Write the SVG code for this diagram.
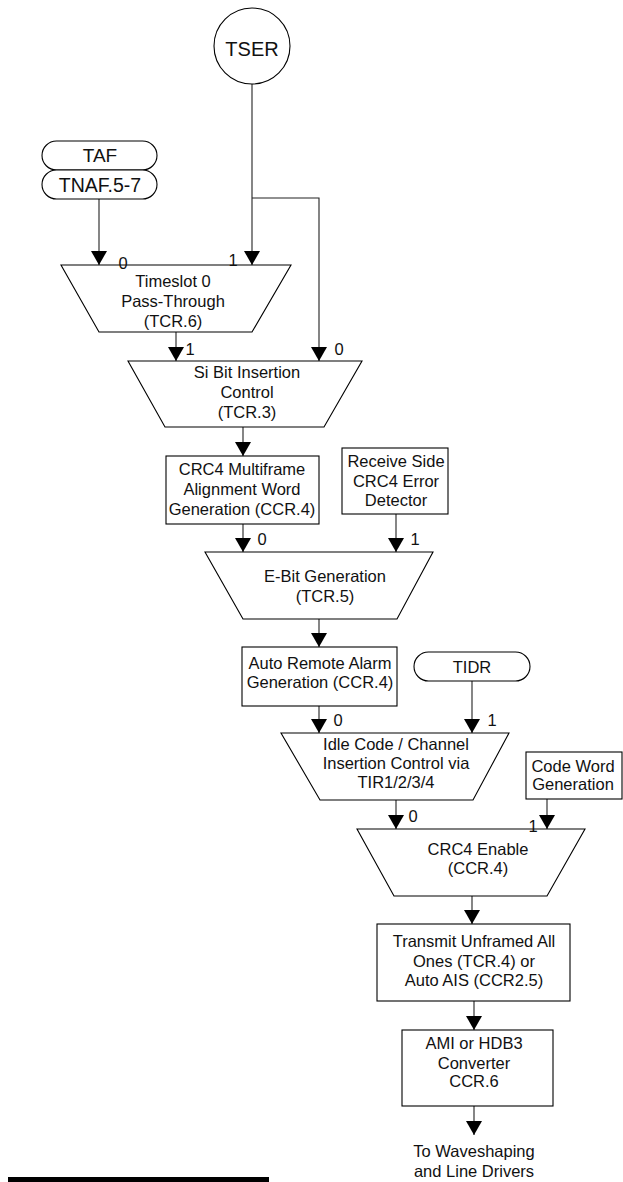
<svg xmlns="http://www.w3.org/2000/svg" width="623" height="1182" viewBox="0 0 623 1182">
<defs>
<marker id="ah" viewBox="0 0 14 16" refX="14" refY="8" markerWidth="14" markerHeight="16" markerUnits="userSpaceOnUse" orient="auto">
<path d="M0,0 L14,8 L0,16 z" fill="#000"/>
</marker>
<style>
.s{fill:#fff;stroke:#000;stroke-width:1.1}
.c{fill:none;stroke:#222;stroke-width:1.1}
.a{fill:none;stroke:#222;stroke-width:1.1;marker-end:url(#ah)}
text{font-family:"Liberation Sans",Arial,sans-serif;font-size:16.5px;fill:#111;text-anchor:middle}
.l{text-anchor:middle}
</style>
</defs>
<rect width="623" height="1182" fill="#fff"/>
<g id="connectors">
<line class="a" x1="252" y1="84" x2="252" y2="265"/>
<polyline class="a" points="252,198 319,198 319,361"/>
<line class="a" x1="99" y1="199" x2="99" y2="265"/>
<line class="a" x1="176" y1="332" x2="176" y2="361"/>
<line class="a" x1="243" y1="427" x2="243" y2="456"/>
<line class="a" x1="243" y1="524" x2="243" y2="552"/>
<line class="a" x1="396" y1="514" x2="396" y2="552"/>
<line class="a" x1="319" y1="619" x2="319" y2="647"/>
<line class="a" x1="319" y1="706" x2="319" y2="733"/>
<line class="a" x1="472" y1="681" x2="472" y2="733"/>
<line class="a" x1="396" y1="800" x2="396" y2="829"/>
<line class="a" x1="547" y1="799" x2="547" y2="829"/>
<line class="a" x1="472" y1="896" x2="472" y2="924"/>
<line class="a" x1="474" y1="1001" x2="474" y2="1030"/>
<line class="a" x1="474" y1="1106" x2="474" y2="1135"/>
</g>
<g id="tser">
<circle class="s" cx="252" cy="46" r="38"/>
<text x="252" y="56" style="font-size:20px">TSER</text>
</g>
<g id="taf">
<rect class="s" x="42" y="141" width="115" height="29" rx="14.5"/>
<text x="100" y="162" style="font-size:19px">TAF</text>
</g>
<g id="tnaf">
<rect class="s" x="42" y="170" width="115" height="29" rx="14.5"/>
<text x="100" y="192" style="font-size:19.5px">TNAF.5-7</text>
</g>
<g id="mux1">
<polygon class="s" points="61,265 291,265 252,332 99,332"/>
<text x="173" y="287">Timeslot 0</text>
<text x="173" y="307">Pass-Through</text>
<text x="173" y="327">(TCR.6)</text>
<text x="123" y="269">0</text>
<text x="233" y="266">1</text>
</g>
<g id="mux2">
<polygon class="s" points="128,361 362,361 324,427 165,427"/>
<text x="247" y="378">Si Bit Insertion</text>
<text x="247" y="398">Control</text>
<text x="247" y="418">(TCR.3)</text>
<text x="190" y="355">1</text>
<text x="339" y="355">0</text>
</g>
<g id="crc4mf">
<rect class="s" x="166" y="456" width="153" height="68"/>
<text x="242" y="475">CRC4 Multiframe</text>
<text x="242" y="495">Alignment Word</text>
<text x="242" y="515">Generation (CCR.4)</text>
</g>
<g id="rxcrc">
<rect class="s" x="342" y="448" width="106" height="66"/>
<text x="396" y="467">Receive Side</text>
<text x="396" y="487">CRC4 Error</text>
<text x="396" y="506">Detector</text>
</g>
<g id="ebit">
<polygon class="s" points="205,552 433,552 397,619 243,619"/>
<text x="325" y="582">E-Bit Generation</text>
<text x="325" y="602">(TCR.5)</text>
<text x="262" y="545">0</text>
<text x="415" y="545">1</text>
</g>
<g id="autoalarm">
<rect class="s" x="242" y="647" width="155" height="59"/>
<text x="320" y="669">Auto Remote Alarm</text>
<text x="320" y="688">Generation (CCR.4)</text>
</g>
<g id="tidr">
<rect class="s" x="414" y="652" width="116" height="29" rx="14.5"/>
<text x="472" y="673">TIDR</text>
</g>
<g id="idle">
<polygon class="s" points="281,733 509,733 473,800 320,800"/>
<text x="396" y="750">Idle Code / Channel</text>
<text x="396" y="769">Insertion Control via</text>
<text x="396" y="788">TIR1/2/3/4</text>
<text x="338" y="726">0</text>
<text x="492" y="726">1</text>
</g>
<g id="codeword">
<rect class="s" x="526" y="752" width="96" height="47"/>
<text x="573" y="772">Code Word</text>
<text x="573" y="790">Generation</text>
</g>
<g id="crc4en">
<polygon class="s" points="357,829 585,829 547,896 394,896"/>
<text x="478" y="855">CRC4 Enable</text>
<text x="478" y="874">(CCR.4)</text>
<text x="413" y="822">0</text>
<text x="533" y="832">1</text>
</g>
<g id="unframed">
<rect class="s" x="377" y="924" width="193" height="77"/>
<text x="474" y="947">Transmit Unframed All</text>
<text x="474" y="967">Ones (TCR.4) or</text>
<text x="474" y="986">Auto AIS (CCR2.5)</text>
</g>
<g id="ami">
<rect class="s" x="402" y="1030" width="151" height="76"/>
<text x="474" y="1049">AMI or HDB3</text>
<text x="474" y="1069">Converter</text>
<text x="474" y="1087">CCR.6</text>
</g>
<g id="out">
<text x="474" y="1157">To Waveshaping</text>
<text x="474" y="1177">and Line Drivers</text>
</g>
<rect x="8" y="1177" width="261" height="5" fill="#000"/>
</svg>
